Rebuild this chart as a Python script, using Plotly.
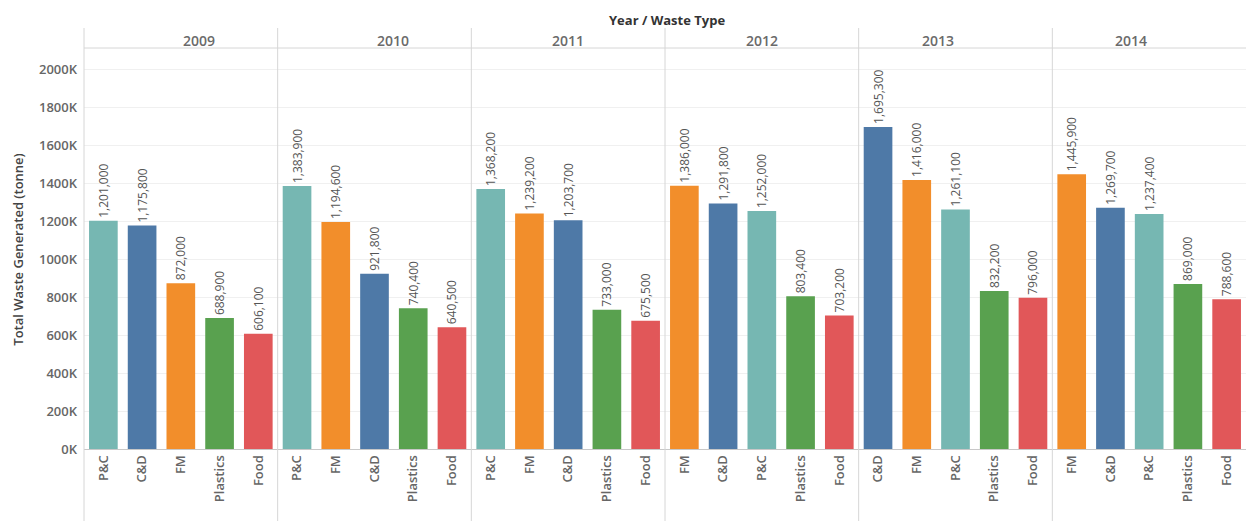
import plotly.graph_objects as go
from plotly.subplots import make_subplots

years = ["2009", "2010", "2011", "2012", "2013", "2014"]
types_by_year = [
    ["P&C", "C&D", "FM", "Plastics", "Food"],
    ["P&C", "FM", "C&D", "Plastics", "Food"],
    ["P&C", "FM", "C&D", "Plastics", "Food"],
    ["FM", "C&D", "P&C", "Plastics", "Food"],
    ["C&D", "FM", "P&C", "Plastics", "Food"],
    ["FM", "C&D", "P&C", "Plastics", "Food"],
]
values_by_year = [
    [1201000, 1175800, 872000, 688900, 606100],
    [1383900, 1194600, 921800, 740400, 640500],
    [1368200, 1239200, 1203700, 733000, 675500],
    [1386000, 1291800, 1252000, 803400, 703200],
    [1695300, 1416000, 1261100, 832200, 796000],
    [1445900, 1269700, 1237400, 869000, 788600],
]
colors = {"P&C": "#76B7B2", "C&D": "#4E79A7", "FM": "#F28E2B",
          "Plastics": "#59A14F", "Food": "#E15759"}
ytick_vals = [0, 200000, 400000, 600000, 800000, 1000000, 1200000,
              1400000, 1600000, 1800000, 2000000]
ytick_text = ["0K", "200K", "400K", "600K", "800K", "1000K", "1200K",
              "1400K", "1600K", "1800K", "2000K"]

W, H = 1246, 521
ML, MR, MT, MB = 84, 0, 50, 72
ph = H - MT - MB

fig = make_subplots(rows=1, cols=6, shared_yaxes=True, horizontal_spacing=0)
FONT = "Open Sans"
for i, (yr, ts, vs) in enumerate(zip(years, types_by_year, values_by_year)):
    fig.add_trace(go.Bar(
        x=ts, y=vs,
        marker=dict(color=[colors[t] for t in ts], line=dict(width=0)),
        width=0.74,
        texttemplate="%{y:,}",
        textposition="outside",
        textangle=-90,
        constraintext="none",
        cliponaxis=False,
        textfont=dict(family=FONT, size=12, color="#555555"),
        hoverinfo="skip",
        showlegend=False,
    ), row=1, col=i + 1)
    fig.update_xaxes(
        row=1, col=i + 1, type="category", tickangle=-90,
        tickfont=dict(family=FONT, size=13, color="#666666", weight=600),
        showline=True, linecolor="#c8c8c8", linewidth=1,
        ticks="", showgrid=False, range=[-0.5, 4.5], fixedrange=True,
    )

fig.update_yaxes(
    range=[0, 2100000], tickvals=ytick_vals, ticktext=ytick_text,
    showgrid=True, gridcolor="#f0f0f0", gridwidth=1, zeroline=False,
    tickfont=dict(family=FONT, size=13, color="#666666", weight=600),
    ticks="", ticklabelstandoff=6,
)
fig.update_yaxes(
    row=1, col=1,
    title=dict(text="Total Waste Generated (tonne)",
               font=dict(family=FONT, size=13, color="#444444", weight=600),
               standoff=12),
)

shapes = []
top_line = 1 + (MT - 28) / ph
bottom_line = -MB / ph
for i in range(6):
    x0 = i / 6
    shapes.append(dict(type="line", xref="paper", yref="paper",
                       x0=x0, x1=x0, y0=bottom_line, y1=top_line,
                       line=dict(color="#d6d6d6", width=1)))
shapes.append(dict(type="line", xref="paper", yref="paper",
                   x0=0, x1=1, y0=1 + 2 / ph, y1=1 + 2 / ph,
                   line=dict(color="#d6d6d6", width=1)))

annotations = []
for i, yr in enumerate(years):
    annotations.append(dict(text=yr, xref="paper", yref="paper",
                            x=(i + 0.5) / 6, y=1, yanchor="middle",
                            yshift=10, showarrow=False,
                            font=dict(family=FONT, size=14, color="#6a6a6a",
                                      weight=600)))
annotations.append(dict(text="Year / Waste Type", xref="paper", yref="paper",
                        x=(667 - ML) / (W - ML - MR), y=1, yanchor="middle",
                        yshift=MT - 20, showarrow=False,
                        font=dict(family=FONT, size=13, color="#333333",
                                  weight="bold")))

fig.update_layout(
    width=W, height=H,
    margin=dict(l=ML, r=MR, t=MT, b=MB, pad=0),
    plot_bgcolor="white", paper_bgcolor="white",
    bargap=0.26,
    shapes=shapes, annotations=annotations,
    showlegend=False,
)

fig.write_html("out.html")
